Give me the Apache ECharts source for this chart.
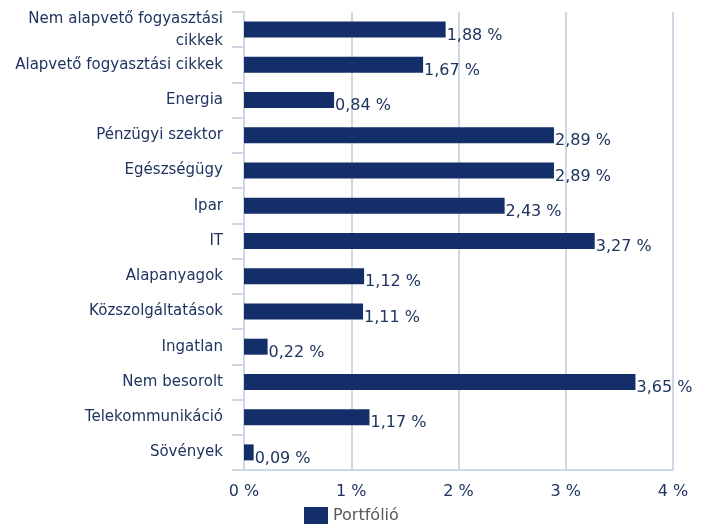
<!DOCTYPE html>
<html>
<head>
<meta charset="utf-8">
<script src="https://cdn.jsdelivr.net/npm/echarts@6/dist/echarts.min.js"></script>
<style>
  html, body { margin: 0; padding: 0; background: #fff; }
  #chart { width: 707px; height: 524px; }
</style>
</head>
<body>
<div id="chart"></div>
<script>
const categories = [
  'Nem alapvető fogyasztási\ncikkek',
  'Alapvető fogyasztási cikkek',
  'Energia',
  'Pénzügyi szektor',
  'Egészségügy',
  'Ipar',
  'IT',
  'Alapanyagok',
  'Közszolgáltatások',
  'Ingatlan',
  'Nem besorolt',
  'Telekommunikáció',
  'Sövények'
]
const portfolio = [1.88, 1.67, 0.84, 2.89, 2.89, 2.43, 3.27, 1.12, 1.11, 0.22, 3.65, 1.17, 0.09]
const xTicks = [0, 1, 2, 3, 4]

const font = 'Verdana, "DejaVu Sans", sans-serif'
const textColor = '#1f3461'
const lineColor = '#cdd8e6'

const myChart = echarts.init(document.getElementById('chart'))
myChart.setOption({
  backgroundColor: '#ffffff',
  animation: false,
  grid: { left: 244, right: 34, top: 12, bottom: 54 },
  legend: {
    data: ['Portfólió'],
    left: 299,
    top: 502,
    itemWidth: 24,
    itemHeight: 17,
    itemGap: 8,
    icon: 'rect',
    textStyle: { color: '#595959', fontSize: 16, fontFamily: font }
  },
  xAxis: {
    type: 'value',
    min: xTicks[0],
    max: xTicks[xTicks.length - 1],
    interval: 1,
    axisLine: { show: true, lineStyle: { color: lineColor, width: 2 } },
    axisTick: { show: false },
    splitLine: { show: true, lineStyle: { color: lineColor, width: 2 } },
    axisLabel: {
      color: textColor,
      fontSize: 16,
      fontFamily: font,
      margin: 14,
      formatter: v => v + ' %'
    }
  },
  yAxis: {
    type: 'category',
    data: categories,
    inverse: true,
    axisLine: { show: true, lineStyle: { color: lineColor, width: 2 } },
    axisTick: { show: true, length: 12, lineStyle: { color: lineColor, width: 2 } },
    axisLabel: {
      interval: 0,
      color: textColor,
      fontSize: 15,
      fontFamily: font,
      margin: 21,
      lineHeight: 22,
      padding: [6, 0, 0, 0]
    }
  },
  series: [
    {
      name: 'Portfólió',
      type: 'bar',
      data: portfolio,
      barWidth: 16,
      itemStyle: { color: '#132e68' },
      label: {
        show: true,
        position: 'right',
        distance: 1,
        offset: [0, 6],
        color: textColor,
        fontSize: 16,
        fontFamily: font,
        formatter: p => p.value.toFixed(2).replace('.', ',') + ' %'
      }
    }
  ]
})
</script>
</body>
</html>
